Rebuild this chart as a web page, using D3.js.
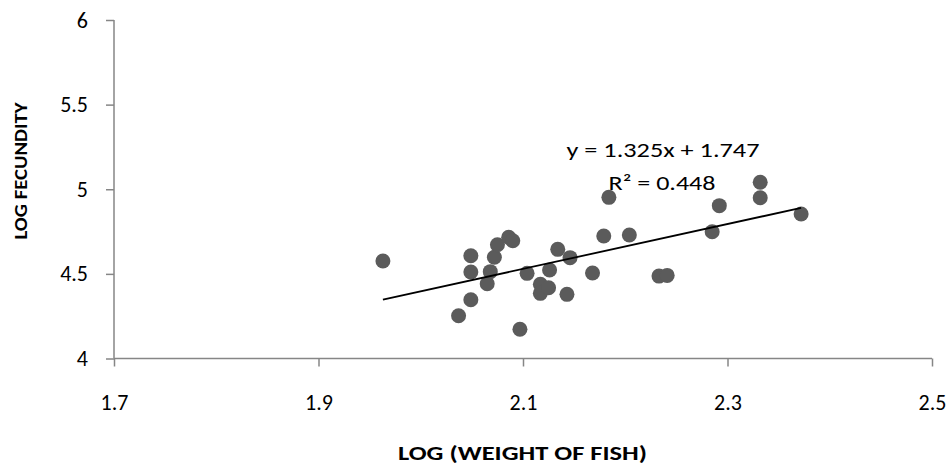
<!DOCTYPE html>
<html>
<head>
<meta charset="utf-8">
<script src="https://cdn.jsdelivr.net/npm/d3@7"></script>
<style>
  html, body { margin: 0; padding: 0; background: #fff; }
  svg { display: block; font-family: Carlito, Calibri, Lato, "Open Sans", sans-serif; }
</style>
</head>
<body>
<svg id="chart" width="952" height="470"></svg>
<script>
// Log weight of fish (x) and log fecundity (y) for each specimen
const logWeight = [
  1.963, 2.037, 2.049, 2.049, 2.049, 2.065, 2.068, 2.072, 2.075, 2.086,
  2.090, 2.097, 2.104, 2.117, 2.117, 2.125, 2.126, 2.134, 2.143, 2.146,
  2.168, 2.179, 2.184, 2.204, 2.233, 2.241, 2.285, 2.292, 2.332, 2.332,
  2.372
];
const logFecundity = [
  4.576, 4.253, 4.607, 4.511, 4.347, 4.442, 4.513, 4.598, 4.672, 4.716,
  4.696, 4.173, 4.503, 4.438, 4.385, 4.418, 4.523, 4.645, 4.379, 4.596,
  4.505, 4.724, 4.952, 4.730, 4.487, 4.491, 4.749, 4.903, 5.041, 4.950,
  4.854
];

// Linear trendline fitted to the points
const slope = 1.325;
const intercept = 1.747;
const rSquared = 0.448;

const xTicks = [1.7, 1.9, 2.1, 2.3, 2.5];
const yTicks = [4, 4.5, 5, 5.5, 6];

const svg = d3.select("#chart");
const x = d3.scaleLinear().domain([1.7, 2.5]).range([114, 932]);
const y = d3.scaleLinear().domain([4, 6]).range([358.5, 20]);

const axisColor = "#868686";
const labelFont = "Carlito, Calibri, Lato, sans-serif";

// Y axis
const yAxis = svg.append("g")
  .attr("transform", `translate(${x(1.7)},0)`)
  .call(d3.axisLeft(y).tickValues(yTicks).tickSize(8).tickPadding(18)
    .tickFormat(d3.format("")));
// X axis
const xAxis = svg.append("g")
  .attr("transform", `translate(0,${y(4)})`)
  .call(d3.axisBottom(x).tickValues(xTicks).tickSize(8)
    .tickFormat(d3.format(".1f")));

[yAxis, xAxis].forEach(g => {
  g.select(".domain").attr("stroke", axisColor).attr("stroke-width", 1.5);
  g.selectAll(".tick line").attr("stroke", axisColor).attr("stroke-width", 1.5);
  g.selectAll(".tick text")
    .attr("fill", "#000")
    .style("font-size", "22px")
    .style("font-family", labelFont);
});
// X tick labels sit on a fixed baseline below the axis
xAxis.selectAll(".tick text").attr("y", 51.5).attr("dy", null);

// Axis lines without outer-tick caps on the domain path
yAxis.select(".domain").attr("d", `M0,${y(6)}V${y(4)}`);
xAxis.select(".domain").attr("d", `M${x(1.7)},0H${x(2.5)}`);

// Scatter points
svg.append("g")
  .selectAll("circle")
  .data(logWeight.map((w, i) => [w, logFecundity[i]]))
  .join("circle")
  .attr("cx", d => x(d[0]))
  .attr("cy", d => y(d[1]))
  .attr("r", 7.5)
  .attr("fill", "#5b5b5b");

// Trendline across the range of the data
const xMin = d3.min(logWeight), xMax = d3.max(logWeight);
svg.append("line")
  .attr("x1", x(xMin)).attr("y1", y(slope * xMin + intercept))
  .attr("x2", x(xMax)).attr("y2", y(slope * xMax + intercept))
  .attr("stroke", "#000")
  .attr("stroke-width", 1.8);

// Trendline equation and R²
const eq = svg.append("g").attr("font-size", 21).attr("fill", "#000");
eq.append("text")
  .attr("x", 663).attr("y", 156.5)
  .attr("text-anchor", "middle")
  .attr("textLength", 193).attr("lengthAdjust", "spacingAndGlyphs")
  .text(`y = ${slope.toFixed(3)}x + ${intercept.toFixed(3)}`);
eq.append("text")
  .attr("x", 662).attr("y", 190)
  .attr("text-anchor", "middle")
  .attr("textLength", 107).attr("lengthAdjust", "spacingAndGlyphs")
  .text(`R² = ${rSquared.toFixed(3)}`);

// Axis titles
svg.append("text")
  .attr("x", 522.5).attr("y", 460)
  .attr("text-anchor", "middle")
  .attr("font-weight", "bold")
  .attr("font-size", 20)
  .attr("textLength", 249).attr("lengthAdjust", "spacingAndGlyphs")
  .text("LOG (WEIGHT OF FISH)");
svg.append("text")
  .attr("transform", "translate(27,171) rotate(-90)")
  .attr("text-anchor", "middle")
  .attr("font-weight", "bold")
  .attr("font-size", 19)
  .attr("textLength", 137).attr("lengthAdjust", "spacingAndGlyphs")
  .text("LOG FECUNDITY");
</script>
</body>
</html>
